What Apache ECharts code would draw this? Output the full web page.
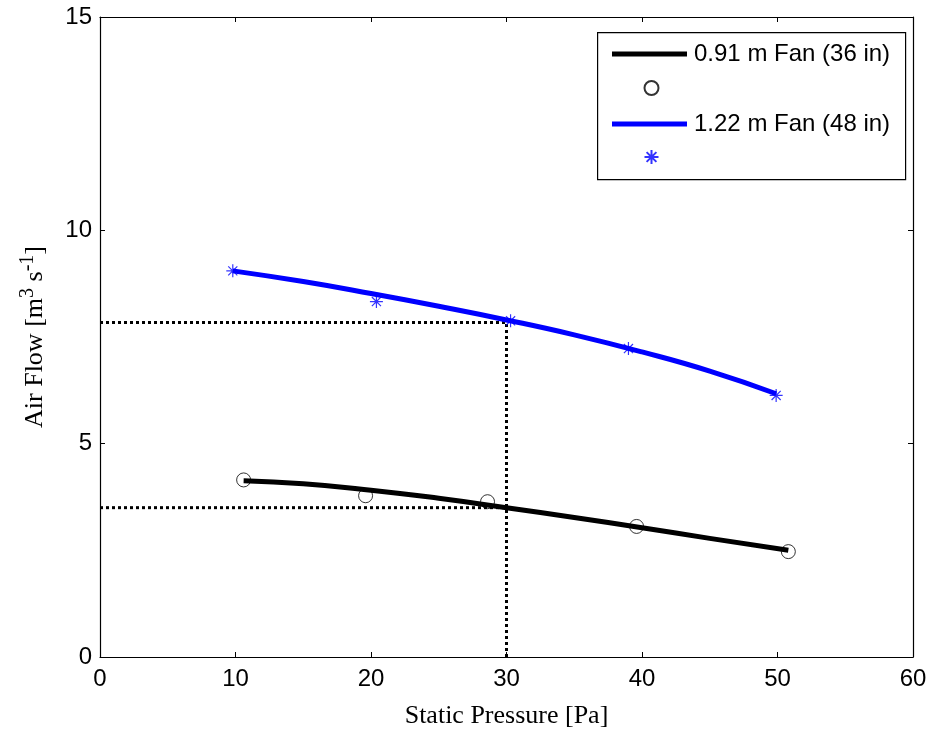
<!DOCTYPE html>
<html><head><meta charset="utf-8">
<script src="https://cdn.jsdelivr.net/npm/echarts@6/dist/echarts.min.js"></script>
<style>html,body{margin:0;padding:0;background:#fff}#c{width:930px;height:734px}</style>
</head><body><div id="c"></div>
<script>
// Fitted curves
const smallFanCurveX = [10.6, 15, 20, 25, 30, 35, 40, 45, 50.8];
const smallFanCurveY = [4.13, 4.06, 3.91, 3.72, 3.50, 3.27, 3.03, 2.78, 2.50];
const largeFanCurveX = [9.8, 15, 20, 25, 30, 35, 40, 45, 49.9];
const largeFanCurveY = [9.05, 8.80, 8.52, 8.22, 7.90, 7.55, 7.15, 6.70, 6.17];
// Measured points
const smallFanPtsX = [10.6, 19.6, 28.6, 39.6, 50.8];
const smallFanPtsY = [4.15, 3.78, 3.64, 3.06, 2.47];
const largeFanPtsX = [9.8, 20.4, 30.3, 39.0, 49.9];
const largeFanPtsY = [9.05, 8.33, 7.88, 7.23, 6.13];
// Reference (design point) lines
const designX = 30;
const designSmallY = 3.50;
const designLargeY = 7.84;
const xTicks = [0, 60, 10];
const yTicks = [0, 15, 5];
const seriesNames = ['0.91 m Fan (36 in)', ' ', '1.22 m Fan (48 in)', '  '];

const zip = (a, b) => a.map((v, i) => [v, b[i]]);
const star = 'path://M5,0L5,10M0,5L10,5M1.5,1.5L8.5,8.5M1.5,8.5L8.5,1.5';

const chart = echarts.init(document.getElementById('c'));
const tickStyle = {show: true, inside: true, length: 5, lineStyle: {color: '#000', width: 1}};
const axLine = {show: true, onZero: false, lineStyle: {color: '#000', width: 1.2}};
const legText = {fontFamily: 'Liberation Sans, Arial', fontSize: 24, lineHeight: 24, color: '#000'};
chart.setOption({
  animation: false,
  backgroundColor: '#fff',
  grid: {left: 100, top: 17, right: 17, bottom: 74, containLabel: false},
  graphic: [{type: 'rect', left: 597, top: 32, shape: {width: 308, height: 147},
    style: {fill: '#fff', stroke: '#000', lineWidth: 1.2}, z: 10}],
  legend: [{
    orient: 'vertical', left: 612, top: 42, padding: 0,
    itemWidth: 75, itemHeight: 5, itemGap: 46, icon: 'rect', z: 20,
    textStyle: Object.assign({padding: [0, 0, 0, 2]}, legText), data: [seriesNames[0], seriesNames[2]]
  }, {
    orient: 'vertical', left: 642, top: 76, padding: 0,
    itemWidth: 14, itemHeight: 14, itemGap: 45, z: 20,
    textStyle: legText, data: [seriesNames[1], seriesNames[3]]
  }],
  xAxis: [{
    type: 'value', min: xTicks[0], max: xTicks[1], interval: xTicks[2],
    axisLine: axLine, axisTick: tickStyle, splitLine: {show: false},
    axisLabel: {color: '#000', fontFamily: 'Liberation Sans Narrow, Arial Narrow, Liberation Sans', fontSize: 24, margin: 10},
    name: 'Static Pressure [Pa]', nameLocation: 'middle', nameGap: 46,
    nameTextStyle: {fontFamily: 'Liberation Serif, Times New Roman', fontSize: 26, color: '#000'}
  }, {
    type: 'value', position: 'top', min: xTicks[0], max: xTicks[1], interval: xTicks[2],
    axisLine: axLine, axisTick: tickStyle, axisLabel: {show: false}, splitLine: {show: false}
  }],
  yAxis: [{
    type: 'value', min: yTicks[0], max: yTicks[1], interval: yTicks[2],
    axisLine: axLine, axisTick: tickStyle, splitLine: {show: false},
    axisLabel: {color: '#000', fontFamily: 'Liberation Sans, Arial', fontSize: 24, margin: 8},
    name: '{n|Air Flow [m}{s|3}{n| s}{s|-1}{n|]}', nameLocation: 'middle', nameGap: 52, nameRotate: 90,
    nameTextStyle: {rich: {
      n: {fontFamily: 'Liberation Serif, Times New Roman', fontSize: 26, color: '#000', verticalAlign: 'bottom', lineHeight: 30},
      s: {fontFamily: 'Liberation Serif, Times New Roman', fontSize: 20, color: '#000', verticalAlign: 'top', lineHeight: 30, padding: [0, 0, 14, 0]}
    }}
  }, {
    type: 'value', position: 'right', min: yTicks[0], max: yTicks[1], interval: yTicks[2],
    axisLine: axLine, axisTick: tickStyle, axisLabel: {show: false}, splitLine: {show: false}
  }],
  series: [
    {name: seriesNames[0], type: 'line', data: zip(smallFanCurveX, smallFanCurveY), smooth: true,
     symbol: 'none', lineStyle: {color: '#000', width: 5}, itemStyle: {color: '#000'}, z: 3},
    {name: seriesNames[1], type: 'scatter', data: zip(smallFanPtsX, smallFanPtsY), symbol: 'circle', symbolSize: 14,
     itemStyle: {color: 'rgba(0,0,0,0)', borderColor: '#000', borderWidth: 1}, z: 4},
    {name: seriesNames[2], type: 'line', data: zip(largeFanCurveX, largeFanCurveY), smooth: true,
     symbol: 'none', lineStyle: {color: '#0000ff', width: 5}, itemStyle: {color: '#0000ff'}, z: 3},
    {name: seriesNames[3], type: 'scatter', data: zip(largeFanPtsX, largeFanPtsY), symbol: star, symbolSize: 13,
     itemStyle: {color: 'none', borderColor: '#0000ff', borderWidth: 1.2}, z: 4},
    {type: 'line', data: [[0, designLargeY], [designX, designLargeY], [designX, 0]], symbol: 'none', silent: true,
     lineStyle: {color: '#000', width: 3, type: [3, 3]}, z: 2},
    {type: 'line', data: [[0, designSmallY], [designX, designSmallY]], symbol: 'none', silent: true,
     lineStyle: {color: '#000', width: 3, type: [3, 3]}, z: 2}
  ]
});
</script></body></html>
